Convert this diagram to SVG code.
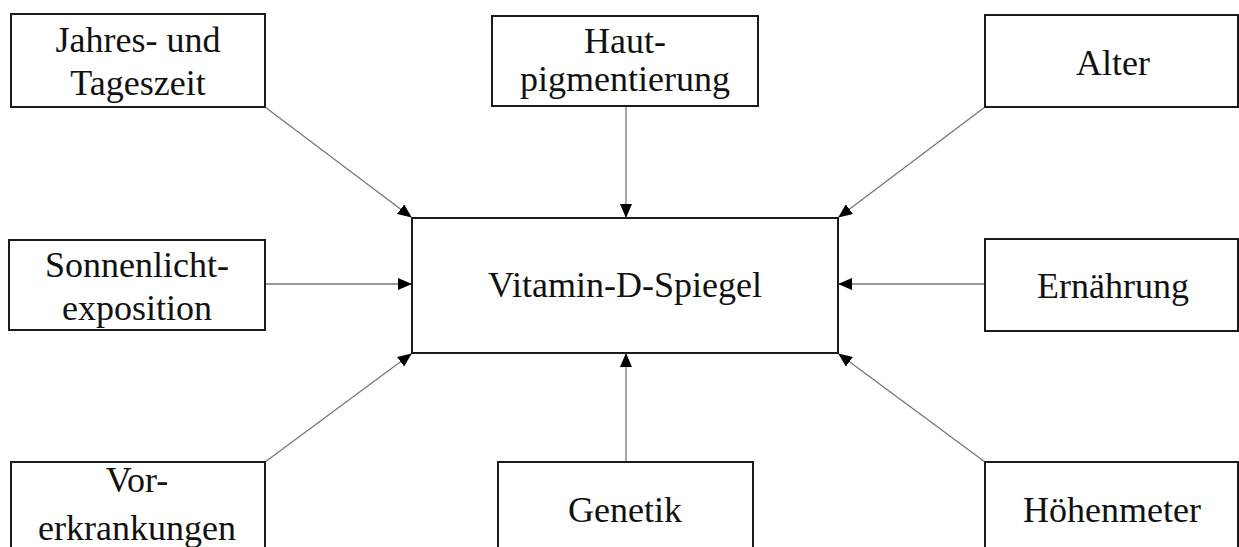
<svg xmlns="http://www.w3.org/2000/svg" width="1239" height="547" viewBox="0 0 1239 547">
<style>
.box{fill:#fff;stroke:#1a1a1a;stroke-width:2}
.t{font-family:"Liberation Serif","Times New Roman",serif;font-size:36px;fill:#111;text-anchor:middle}
.c{stroke:#777;stroke-width:1.3;fill:none;marker-end:url(#ah)}
</style>
<defs>
<marker id="ah" markerUnits="userSpaceOnUse" markerWidth="14" markerHeight="12" viewBox="0 0 14 12" refX="13" refY="6" orient="auto">
<path d="M0,0 L14,6 L0,12 Z" fill="#000"/>
</marker>
</defs>
<rect width="1239" height="547" fill="#fff"/>
<g id="connectors">
<line class="c" x1="265" y1="107" x2="411" y2="217"/>
<line class="c" x1="626" y1="106" x2="626" y2="217"/>
<line class="c" x1="985" y1="107" x2="839" y2="217"/>
<line class="c" x1="265" y1="284" x2="411" y2="284"/>
<line class="c" x1="985" y1="284" x2="839" y2="284"/>
<line class="c" x1="265" y1="462" x2="411" y2="354"/>
<line class="c" x1="626" y1="462" x2="626" y2="354"/>
<line class="c" x1="985" y1="462" x2="839" y2="354"/>
</g>
<g id="center">
<rect class="box" x="412" y="218" width="426" height="135"/>
<text class="t" x="625" y="297">Vitamin-D-Spiegel</text>
</g>
<g id="jahres">
<rect class="box" x="11" y="14" width="254" height="93"/>
<text class="t" x="138" y="52">Jahres- und</text>
<text class="t" x="138" y="95">Tageszeit</text>
</g>
<g id="haut">
<rect class="box" x="492" y="16" width="266" height="90"/>
<text class="t" x="625" y="53">Haut-</text>
<text class="t" x="625" y="91">pigmentierung</text>
</g>
<g id="alter">
<rect class="box" x="985" y="15" width="253" height="92"/>
<text class="t" x="1113" y="75">Alter</text>
</g>
<g id="sonnenlicht">
<rect class="box" x="9" y="240" width="256" height="90"/>
<text class="t" x="137" y="277">Sonnenlicht-</text>
<text class="t" x="137" y="320">exposition</text>
</g>
<g id="ernaehrung">
<rect class="box" x="985" y="239" width="253" height="92"/>
<text class="t" x="1113" y="298">Ernährung</text>
</g>
<g id="vorerkrankungen">
<rect class="box" x="11" y="462" width="254" height="100"/>
<text class="t" x="137" y="492">Vor-</text>
<text class="t" x="137" y="540">erkrankungen</text>
</g>
<g id="genetik">
<rect class="box" x="498" y="462" width="255" height="100"/>
<text class="t" x="625" y="522">Genetik</text>
</g>
<g id="hoehenmeter">
<rect class="box" x="985" y="462" width="253" height="100"/>
<text class="t" x="1112" y="522">Höhenmeter</text>
</g>
</svg>
